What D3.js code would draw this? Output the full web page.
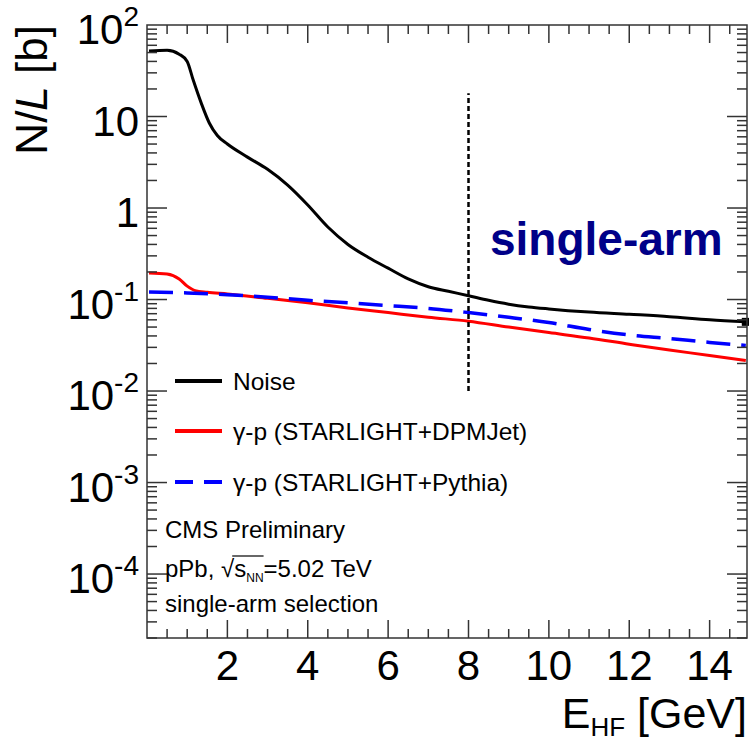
<!DOCTYPE html>
<html>
<head>
<meta charset="utf-8">
<script src="https://cdn.jsdelivr.net/npm/d3@7"></script>
<style>
  body { margin: 0; background: #fff; }
  text { font-family: Arial, "Liberation Sans", sans-serif; }
</style>
</head>
<body>
<div id="chart"></div>
<script>
// values
var noiseE = [0.05, 0.5, 0.8, 1.0, 1.15, 1.35, 1.55, 1.75, 2.0, 2.5, 3.0, 3.5, 4.0, 4.5, 5.0, 5.5, 6.0, 6.5, 7.0, 7.5, 8.0, 8.5, 9.0, 9.5, 10, 11, 12, 13, 14, 14.9]
var noiseN = [52, 53, 48, 40, 25, 14, 8.5, 6.2, 5.0, 3.6, 2.65, 1.78, 1.08, 0.62, 0.40, 0.29, 0.22, 0.168, 0.138, 0.123, 0.11, 0.098, 0.089, 0.083, 0.079, 0.073, 0.069, 0.065, 0.060, 0.057]
var dpmE = [0.05, 0.5, 0.8, 1.0, 1.2, 1.5, 2, 3, 4, 5, 6, 7, 8, 9, 10, 11, 12, 13, 14, 14.9]
var dpmN = [0.195, 0.19, 0.168, 0.14, 0.125, 0.12, 0.115, 0.103, 0.092, 0.081, 0.072, 0.064, 0.058, 0.050, 0.0435, 0.038, 0.0325, 0.028, 0.0245, 0.0215]
var pythiaE = [0.05, 1, 2, 3, 4, 5, 6, 7, 8, 9, 10, 11, 12, 13, 14, 14.9]
var pythiaN = [0.121, 0.118, 0.113, 0.106, 0.098, 0.092, 0.086, 0.080, 0.072, 0.064, 0.056, 0.047, 0.041, 0.0375, 0.034, 0.0315]

var xTicks = [2, 4, 6, 8, 10, 12, 14]
var yTicks = [1e-4, 1e-3, 1e-2, 1e-1, 1, 10, 100]
var yLabels = [["10", "-4"], ["10", "-3"], ["10", "-2"], ["10", "-1"], ["1", ""], ["10", ""], ["10", "2"]]
var cutE = 8
var cutRange = [0.01, 18]

var legendNames = ["Noise", "γ-p (STARLIGHT+DPMJet)", "γ-p (STARLIGHT+Pythia)"]

var svg = d3.select("#chart").append("svg")
            .attr("width", 749)
            .attr("height", 742)

var x = d3.scaleLinear().domain([0, 14.93]).range([147, 747])
var y = d3.scaleLog().domain([2e-5, 100]).range([638, 25])

var line = d3.line().x(d => x(d[0])).y(d => y(d[1])).curve(d3.curveMonotoneX)

function zipped(es, ns) { return es.map((e, i) => [e, ns[i]]) }

// curves
var plot = svg.append("g")
plot.append("path").datum(zipped(dpmE, dpmN))
  .attr("d", line).attr("fill", "none").attr("stroke", "#ff0000").attr("stroke-width", 3)
plot.append("path").datum(zipped(pythiaE, pythiaN))
  .attr("d", line).attr("fill", "none").attr("stroke", "#0000ff").attr("stroke-width", 3.5)
  .attr("stroke-dasharray", "24,11")
plot.append("path").datum(zipped(noiseE, noiseN))
  .attr("d", line).attr("fill", "none").attr("stroke", "#000").attr("stroke-width", 3)
plot.append("rect")
  .attr("x", x(noiseE[noiseE.length - 1]) - 4).attr("y", y(noiseN[noiseN.length - 1]) - 4)
  .attr("width", 8).attr("height", 8).attr("fill", "#000")

// cut line
plot.append("line")
  .attr("x1", x(cutE)).attr("x2", x(cutE))
  .attr("y1", y(cutRange[0])).attr("y2", y(cutRange[1]))
  .attr("stroke", "#000").attr("stroke-width", 2.5).attr("stroke-dasharray", "5,3")

// frame and ticks
var axisCol = "#333"
svg.append("rect").attr("x", 147).attr("y", 25).attr("width", 600).attr("height", 613)
  .attr("fill", "none").attr("stroke", axisCol).attr("stroke-width", 1.5)

var xMinor = d3.range(0.5, 14.93, 0.5)
var ticks = svg.append("g").attr("stroke", axisCol).attr("stroke-width", 1.5)
xMinor.forEach(function(v) {
  var len = (v % 2 === 0) ? 18 : 9
  ticks.append("line").attr("x1", x(v)).attr("x2", x(v)).attr("y1", 638).attr("y2", 638 - len)
  ticks.append("line").attr("x1", x(v)).attr("x2", x(v)).attr("y1", 25).attr("y2", 25 + len)
})
var yMinor = []
d3.range(-5, 2).forEach(function(p) {
  for (var k = 1; k <= 9; k++) {
    var v = k * Math.pow(10, p)
    if (v >= 2e-5 && v <= 100) yMinor.push({v: v, major: k === 1})
  }
})
yMinor.forEach(function(t) {
  var len = t.major ? 20 : 10
  ticks.append("line").attr("x1", 147).attr("x2", 147 + len).attr("y1", y(t.v)).attr("y2", y(t.v))
  ticks.append("line").attr("x1", 747).attr("x2", 747 - len).attr("y1", y(t.v)).attr("y2", y(t.v))
})

// tick labels
svg.selectAll(".xl").data(xTicks).enter().append("text")
  .attr("x", d => x(d)).attr("y", 680).attr("text-anchor", "middle")
  .attr("font-size", 42).text(d => d)

yTicks.forEach(function(v, i) {
  var t = svg.append("text").attr("x", 139).attr("y", y(v) + 19)
    .attr("text-anchor", "end").attr("font-size", 42)
  t.append("tspan").text(yLabels[i][0])
  if (yLabels[i][1]) t.append("tspan").attr("dy", -18).attr("font-size", 28).text(yLabels[i][1])
})

// axis titles
var yt = svg.append("text").attr("transform", "translate(47,25) rotate(-90)")
  .attr("text-anchor", "end").attr("font-size", 44)
yt.append("tspan").text("N/")
yt.append("tspan").attr("font-style", "italic").text("L")
yt.append("tspan").text(" [b]")

var xt = svg.append("text").attr("x", 747).attr("y", 728).attr("text-anchor", "end").attr("font-size", 43)
xt.append("tspan").text("E")
xt.append("tspan").attr("dy", 8).attr("font-size", 26).text("HF")
xt.append("tspan").attr("dy", -8).text(" [GeV]")

// legend
var legY = [381, 431, 482]
var leg = svg.append("g")
leg.append("line").attr("x1", 175).attr("x2", 222).attr("y1", legY[0]).attr("y2", legY[0])
  .attr("stroke", "#000").attr("stroke-width", 4)
leg.append("line").attr("x1", 175).attr("x2", 222).attr("y1", legY[1]).attr("y2", legY[1])
  .attr("stroke", "#ff0000").attr("stroke-width", 4)
leg.append("line").attr("x1", 175).attr("x2", 222).attr("y1", legY[2]).attr("y2", legY[2])
  .attr("stroke", "#0000ff").attr("stroke-width", 4).attr("stroke-dasharray", "18,11")
legendNames.forEach(function(n, i) {
  leg.append("text").attr("x", 233).attr("y", legY[i] + 9).attr("font-size", 24.5).text(n)
})

// annotations
svg.append("text").attr("x", 165).attr("y", 538).attr("font-size", 24).text("CMS Preliminary")
var pp = svg.append("text").attr("x", 165).attr("y", 577).attr("font-size", 24)
pp.append("tspan").text("pPb, √")
pp.append("tspan").text("s")
pp.append("tspan").attr("dy", 5).attr("font-size", 12).text("NN")
pp.append("tspan").attr("dy", -5).text("=5.02 TeV")
var ppNode = pp.node()
var sStart = ppNode.getSubStringLength(0, 6)
var sEnd = ppNode.getSubStringLength(0, 9)
svg.append("line").attr("x1", 165 + sStart - 2).attr("x2", 165 + sEnd)
  .attr("y1", 556).attr("y2", 556).attr("stroke", "#000").attr("stroke-width", 1.2)
svg.append("text").attr("x", 165).attr("y", 612).attr("font-size", 24).text("single-arm selection")

svg.append("text").attr("x", 490).attr("y", 255).attr("font-size", 46).attr("font-weight", "bold")
  .attr("fill", "#000088").text("single-arm")
</script>
</body>
</html>
